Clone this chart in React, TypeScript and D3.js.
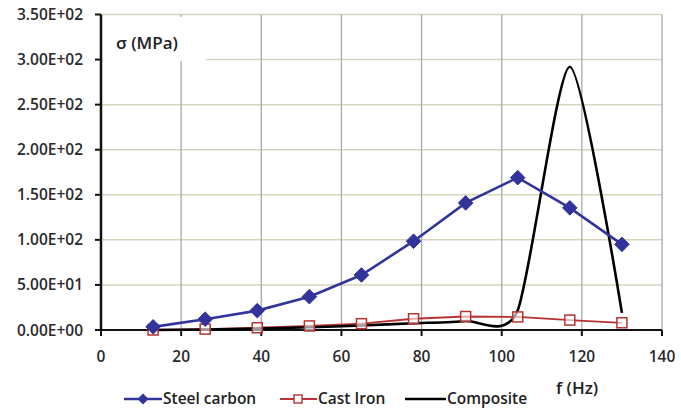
import * as d3 from 'd3';

const freqs = [13, 26, 39, 52, 65, 78, 91, 104, 117, 130];
const steelCarbon = [3.5, 12, 21.5, 37, 61, 98.5, 141, 169, 135.5, 95];
const castIron = [0, 1, 2.5, 4.5, 7, 12.5, 15, 14.5, 11, 8];
const composite = [0, 0.5, 1.5, 3, 5, 7.5, 10, 22, 292, 19];

const xTicks = [0, 20, 40, 60, 80, 100, 120, 140];
const yTicks = [0, 50, 100, 150, 200, 250, 300, 350];

const W = 681;
const H = 410;
const font = '"Open Sans", sans-serif';

// Excel style scientific labels, e.g. 3.50E+02
const sci = (v: number) => d3.format('.2e')(v).replace(/e([+-])(\d)$/, 'E$10$2').replace(/e([+-])(\d\d)$/, 'E$1$2');

export default function App() {
  const x = d3.scaleLinear().domain([0, 140]).range([101, 662]);
  const y = d3.scaleLinear().domain([0, 350]).range([330, 14.5]);

  const mk = (vals: number[]) => freqs.map((f, i) => [f, vals[i]] as [number, number]);
  const straight = d3.line<[number, number]>().x(d => x(d[0])).y(d => y(d[1]));
  const smooth = d3.line<[number, number]>()
    .x(d => x(d[0]))
    .y(d => y(d[1]))
    .curve(d3.curveCardinal.tension(0.3));

  const steelColor = '#33349b';
  const ironColor = '#b83232';

  const diamond = (cx: number, cy: number, r: number) =>
    `M${cx},${cy - r}L${cx + r},${cy}L${cx},${cy + r}L${cx - r},${cy}Z`;

  return (
    <div style={{ position: 'absolute', left: 0, top: 0 }}>
      <svg width={W} height={H} style={{ display: 'block', background: '#fff' }}>
        {/* horizontal gridlines */}
        {yTicks.filter(t => t > 0).map(t => (
          <line key={'h' + t} x1={x(0)} x2={x(140)} y1={y(t)} y2={y(t)} stroke="#d9d5bd" strokeWidth={1.5} />
        ))}
        {/* vertical gridlines */}
        {xTicks.filter(t => t > 0).map(t => (
          <line key={'v' + t} x1={x(t)} x2={x(t)} y1={y(350)} y2={y(0)} stroke="#a8a8a8" strokeWidth={1.3} />
        ))}

        {/* y-axis label with white box */}
        <rect x={103} y={17} width={103} height={44} fill="#fff" />
        <text x={116} y={49} fontFamily={font} fontSize={17} fontWeight={600} fill="#222">σ (MPa)</text>

        {/* axes */}
        <line x1={x(0)} x2={x(0)} y1={y(350)} y2={y(0) + 1} stroke="#111" strokeWidth={2.5} />
        <line x1={x(0)} x2={x(140)} y1={y(0)} y2={y(0)} stroke="#111" strokeWidth={2} />
        {yTicks.map(t => (
          <g key={'yt' + t}>
            <line x1={x(0) - 6} x2={x(0)} y1={y(t)} y2={y(t)} stroke="#111" strokeWidth={2} />
            <text x={83} y={y(t) + 5.5} textAnchor="end" fontFamily={font} fontSize={15.5} fontWeight={600} fill="#2a2a2a">
              {sci(t)}
            </text>
          </g>
        ))}
        {xTicks.map(t => (
          <g key={'xt' + t}>
            <line x1={x(t)} x2={x(t)} y1={y(0)} y2={y(0) + 6} stroke="#111" strokeWidth={2} />
            <text x={x(t)} y={362} textAnchor="middle" fontFamily={font} fontSize={15.5} fontWeight={600} fill="#2a2a2a">
              {t}
            </text>
          </g>
        ))}

        {/* series */}
        <path d={straight(mk(castIron)) ?? ''} fill="none" stroke={ironColor} strokeWidth={1.8} />
        <path d={smooth(mk(composite)) ?? ''} fill="none" stroke="#000" strokeWidth={2.6} />
        {mk(castIron).map((d, i) => (
          <rect key={'ci' + i} x={x(d[0]) - 5} y={y(d[1]) - 5} width={10} height={10} fill="#fff" fillOpacity={0.6} stroke={ironColor} strokeWidth={1.5} />
        ))}
        <path d={straight(mk(steelCarbon)) ?? ''} fill="none" stroke={steelColor} strokeWidth={2.6} />
        {mk(steelCarbon).map((d, i) => (
          <path key={'sc' + i} d={diamond(x(d[0]), y(d[1]), 7.3)} fill={steelColor} stroke={steelColor} strokeWidth={1} />
        ))}

        {/* x-axis label */}
        <text x={556} y={394} fontFamily={font} fontSize={17} fontWeight={600} fill="#222">f (Hz)</text>

        {/* legend */}
        <g fontFamily={font} fontSize={15.5} fontWeight={600} fill="#222">
          <line x1={124} x2={162} y1={399} y2={399} stroke={steelColor} strokeWidth={2.6} />
          <path d={diamond(143, 399, 5.5)} fill={steelColor} />
          <text x={163} y={404}>Steel carbon</text>
          <line x1={280} x2={317} y1={399} y2={399} stroke={ironColor} strokeWidth={1.8} />
          <rect x={294} y={395} width={8} height={8} fill="#fff" stroke={ironColor} strokeWidth={1.4} />
          <text x={318} y={404}>Cast Iron</text>
          <line x1={405} x2={446} y1={399} y2={399} stroke="#000" strokeWidth={2.6} />
          <text x={447} y={404}>Composite</text>
        </g>
      </svg>
    </div>
  );
}
